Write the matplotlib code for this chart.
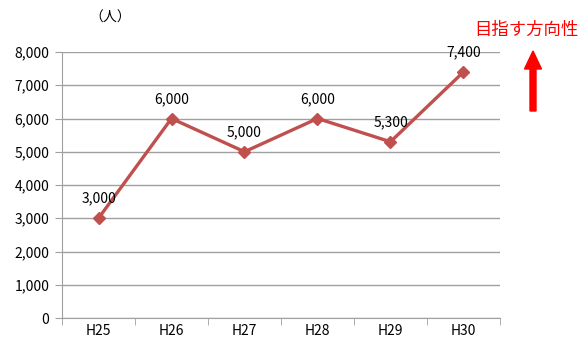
import matplotlib.pyplot as plt
import matplotlib.patches as mpatches
import numpy as np

plt.rcParams['font.family'] = ['Noto Sans CJK JP', 'DejaVu Sans']

# データ
years = ['H25', 'H26', 'H27', 'H28', 'H29', 'H30']
people = [3000, 6000, 5000, 6000, 5300, 7400]
labels = ['3,000', '6,000', '5,000', '6,000', '5,300', '7,400']
yticks = [0, 1000, 2000, 3000, 4000, 5000, 6000, 7000, 8000]

fig = plt.figure(figsize=(5.82, 3.43), dpi=100)
ax = fig.add_axes([62/582, 1 - 318/343, 438/582, 266/343])

x = np.arange(len(years))
ax.plot(x, people, color='#c0504d', linewidth=2.4, marker='D', markersize=6.5)

for xi, yi, lb in zip(x, people, labels):
    ax.annotate(lb, (xi, yi), xytext=(0, 9), textcoords='offset points',
                ha='center', va='bottom', fontsize=10)

ax.set_xlim(-0.5, len(years) - 0.5)
ax.set_ylim(0, 8000)
ax.set_yticks(yticks)
ax.set_yticklabels([f'{v:,}' for v in yticks], fontsize=10)
ax.yaxis.grid(True, color='#a0a0a0', linewidth=1)
ax.set_axisbelow(True)

ax.set_xticks(x)
ax.set_xticklabels(years, fontsize=10)
ax.set_xticks(np.arange(-0.5, len(years)), minor=True)
ax.tick_params(axis='x', which='major', length=0, pad=4)
ax.tick_params(axis='x', which='minor', length=5, color='#a0a0a0')
ax.tick_params(axis='y', length=5, color='#a0a0a0', pad=4)

for s in ['top', 'right']:
    ax.spines[s].set_visible(False)
for s in ['left', 'bottom']:
    ax.spines[s].set_color('#a0a0a0')

fig.text(110/582, 1 - 18/343, '（人）', ha='center', va='center', fontsize=10)
fig.text(526/582, 1 - 30/343, '目指す方向性', ha='center', va='center',
         fontsize=12.5, color='#ff0000')
fig.patches.append(mpatches.FancyArrow(
    533/582, 1 - 111/343, 0, 60/343, width=6/582, head_width=17/582,
    head_length=18/343, length_includes_head=True, color='#ff0000',
    transform=fig.transFigure, figure=fig))
fig.patches.append(mpatches.Arc(
    (640/582, 1 + 60/343), 150/582, 150/343, theta1=180, theta2=270,
    color='#f4c6c6', linewidth=1.5, transform=fig.transFigure, figure=fig))

fig.savefig('out.png', dpi=100)
